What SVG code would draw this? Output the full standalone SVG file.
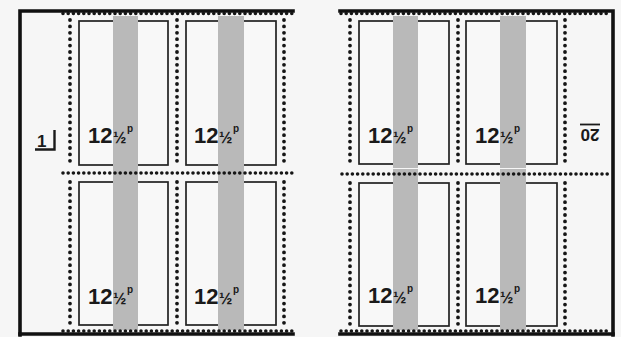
<svg xmlns="http://www.w3.org/2000/svg" width="621" height="337" viewBox="0 0 621 337">
<style>
.frame{stroke:#111;stroke-width:3.6;fill:none;stroke-linecap:square}
.pv{stroke:#151515;stroke-width:3.8;stroke-linecap:round;stroke-dasharray:0 6.4;fill:none}
.ph{stroke:#151515;stroke-width:3.6;stroke-linecap:round;stroke-dasharray:0 5.2;fill:none}
.stamp{fill:#f8f8f8;stroke:#222;stroke-width:1.7}
.band{fill:#b9b9b9}
.val{font-family:"Liberation Sans",Arial,sans-serif;font-weight:bold;font-size:22px;fill:#1a1a1a}
.half{font-family:"Liberation Sans",Arial,sans-serif;font-weight:bold;font-size:16px;fill:#1a1a1a}
.sup{font-family:"Liberation Sans",Arial,sans-serif;font-weight:bold;font-size:10px;fill:#1a1a1a}
.lbl{font-family:"Liberation Sans",Arial,sans-serif;font-weight:bold;font-size:17px;fill:#1a1a1a}
</style>
<rect x="0" y="0" width="621" height="337" fill="#f6f6f6"/>

<g id="stamp-L1">
<rect class="stamp" x="79" y="21" width="89" height="144"/>
<rect class="band" x="113" y="16" width="25" height="152"/>
<text class="val" x="88" y="143">12</text><text class="half" x="113" y="143">½</text><text class="sup" x="127" y="132">p</text>
</g>
<g id="stamp-L2">
<rect class="stamp" x="186" y="21" width="90" height="144"/>
<rect class="band" x="218" y="16" width="26" height="152"/>
<text class="val" x="194" y="143">12</text><text class="half" x="219" y="143">½</text><text class="sup" x="233" y="132">p</text>
</g>
<g id="stamp-L3">
<rect class="stamp" x="79" y="182" width="89" height="143"/>
<rect class="band" x="113" y="168" width="25" height="162"/>
<text class="val" x="88" y="304">12</text><text class="half" x="113" y="304">½</text><text class="sup" x="127" y="293">p</text>
</g>
<g id="stamp-L4">
<rect class="stamp" x="186" y="182" width="90" height="143"/>
<rect class="band" x="218" y="168" width="26" height="162"/>
<text class="val" x="194" y="304">12</text><text class="half" x="219" y="304">½</text><text class="sup" x="233" y="293">p</text>
</g>

<g id="stamp-R1">
<rect class="stamp" x="359" y="21" width="90" height="143"/>
<rect class="band" x="393" y="16" width="25" height="152"/>
<text class="val" x="368" y="143">12</text><text class="half" x="393" y="143">½</text><text class="sup" x="407" y="132">p</text>
</g>
<g id="stamp-R2">
<rect class="stamp" x="466" y="21" width="91" height="143"/>
<rect class="band" x="500" y="16" width="26" height="152"/>
<text class="val" x="475" y="143">12</text><text class="half" x="500" y="143">½</text><text class="sup" x="514" y="132">p</text>
</g>
<g id="stamp-R3">
<rect class="stamp" x="359" y="183" width="90" height="143"/>
<rect class="band" x="393" y="169" width="25" height="161"/>
<text class="val" x="368" y="303">12</text><text class="half" x="393" y="303">½</text><text class="sup" x="407" y="292">p</text>
</g>
<g id="stamp-R4">
<rect class="stamp" x="466" y="183" width="91" height="143"/>
<rect class="band" x="500" y="169" width="26" height="161"/>
<text class="val" x="475" y="303">12</text><text class="half" x="500" y="303">½</text><text class="sup" x="514" y="292">p</text>
</g>

<g id="connectors">
<path class="frame" d="M293 11 H20 V335"/>
<path class="frame" d="M20 334 H293" stroke-width="4.5"/>
<line class="ph" x1="63" y1="13.5" x2="293" y2="13.5"/>
<line class="ph" x1="63" y1="331" x2="293" y2="331"/>
<line class="ph" x1="63" y1="173" x2="293" y2="173"/>
<line class="pv" x1="70" y1="20" x2="70" y2="166"/>
<line class="pv" x1="177" y1="20" x2="177" y2="166"/>
<line class="pv" x1="284" y1="20" x2="284" y2="166"/>
<line class="pv" x1="70" y1="182" x2="70" y2="328"/>
<line class="pv" x1="177" y1="182" x2="177" y2="328"/>
<line class="pv" x1="284" y1="182" x2="284" y2="328"/>
<path class="frame" d="M340 11 H613 V335" stroke-width="4"/>
<path class="frame" d="M340 334 H613" stroke-width="4.5"/>
<line class="ph" x1="341" y1="13.5" x2="611" y2="13.5"/>
<line class="ph" x1="341" y1="331" x2="611" y2="331"/>
<line class="ph" x1="342" y1="174" x2="611" y2="174"/>
<line class="pv" x1="350" y1="20" x2="350" y2="166"/>
<line class="pv" x1="458" y1="20" x2="458" y2="166"/>
<line class="pv" x1="565" y1="20" x2="565" y2="166"/>
<line class="pv" x1="350" y1="183" x2="350" y2="329"/>
<line class="pv" x1="458" y1="183" x2="458" y2="329"/>
<line class="pv" x1="565" y1="183" x2="565" y2="329"/>
</g>

<g id="label-1">
<text class="lbl" x="37" y="147" font-size="19">1</text>
<path d="M35 149.5 H54.5 V130" fill="none" stroke="#1a1a1a" stroke-width="2.4"/>
</g>
<g id="label-20">
<g transform="rotate(180 590 135)">
<text class="lbl" x="590" y="141.5" text-anchor="middle" font-size="18" textLength="19" lengthAdjust="spacingAndGlyphs">20</text>
<line x1="580" y1="145.5" x2="600" y2="145.5" stroke="#1a1a1a" stroke-width="1.8"/>
</g>
</g>
</svg>
